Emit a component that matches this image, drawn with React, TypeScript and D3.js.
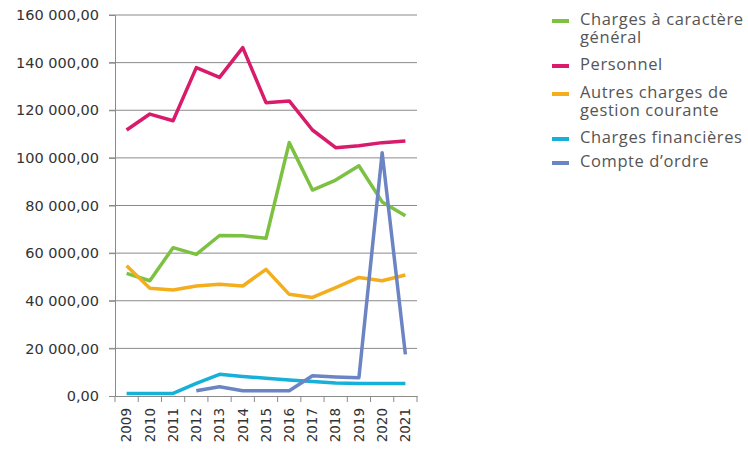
import React, { useEffect, useRef } from 'react';
import * as d3 from 'd3';

const years = ['2009', '2010', '2011', '2012', '2013', '2014', '2015', '2016', '2017', '2018', '2019', '2020', '2021'];

const chargesGeneral = [51500, 48400, 62300, 59500, 67400, 67300, 66200, 106400, 86500, 90700, 96700, 81500, 75700];
const personnel = [111700, 118400, 115600, 137900, 133800, 146300, 123200, 123900, 111700, 104300, 105100, 106400, 107100];
const autresCharges = [54700, 45200, 44500, 46200, 46900, 46200, 53200, 42700, 41400, 45500, 49800, 48400, 50800];
const chargesFinancieres = [1100, 1100, 1100, 5300, 9100, 8200, 7500, 6700, 6100, 5500, 5200, 5200, 5200];
const compteOrdre: (number | null)[] = [null, null, null, 2200, 3900, 2200, 2200, 2200, 8500, 8000, 7700, 102200, 17500];

const yTicks = [0, 20000, 40000, 60000, 80000, 100000, 120000, 140000, 160000];

const series = [
  { name: ['Charges à caractère', 'général'], values: chargesGeneral, color: '#7cc142' },
  { name: ['Personnel'], values: personnel, color: '#d81b6a' },
  { name: ['Autres charges de', 'gestion courante'], values: autresCharges, color: '#f4ad1c' },
  { name: ['Charges financières'], values: chargesFinancieres, color: '#17b0d9' },
  { name: ['Compte d\u2019ordre'], values: compteOrdre, color: '#6b84c3' },
];

const fmt = (v: number) => d3.format(',.2f')(v).replace(/,/g, ' ').replace('.', ',');

const App: React.FC = () => {
  const svgRef = useRef<SVGSVGElement>(null);

  useEffect(() => {
    if (!svgRef.current) return;
    const svg = d3.select(svgRef.current);
    svg.selectAll('*').remove();

    const left = 115, right = 417, top = 15, bottom = 396;

    const x = d3.scaleBand<string>().domain(years).range([left, right]);
    const y = d3.scaleLinear().domain([0, 160000]).range([bottom, top]);

    // grid lines
    svg.append('g')
      .selectAll('line')
      .data(yTicks.filter(t => t > 0))
      .enter()
      .append('line')
      .attr('x1', left - 6)
      .attr('x2', right)
      .attr('y1', d => y(d))
      .attr('y2', d => y(d))
      .attr('stroke', '#8a8a8a')
      .attr('stroke-width', 1);

    // y axis
    const yAxis = svg.append('g')
      .attr('transform', `translate(${left},0)`)
      .call(d3.axisLeft(y).tickValues(yTicks).tickSize(6).tickFormat(d => fmt(d as number)));
    yAxis.select('.domain').attr('stroke', '#8a8a8a');
    yAxis.selectAll('.tick line').attr('stroke', '#8a8a8a');
    yAxis.selectAll('text')
      .attr('x', -16)
      .style('font-family', 'DejaVu Sans, sans-serif')
      .style('font-size', '14.5px')
      .style('fill', '#333');

    // x axis
    const xAxis = svg.append('g')
      .attr('transform', `translate(0,${bottom})`)
      .call(d3.axisBottom(x).tickSize(0).tickFormat(d => d as string));
    xAxis.select('.domain').attr('stroke', '#8a8a8a');
    xAxis.selectAll('text')
      .attr('transform', 'rotate(-90)')
      .attr('x', -12)
      .attr('y', 0)
      .attr('dy', '0.35em')
      .style('text-anchor', 'end')
      .style('font-family', 'DejaVu Sans, sans-serif')
      .style('font-size', '13.5px')
      .style('fill', '#333');

    // boundary ticks between categories
    const bounds = years.map(yr => x(yr) as number).concat([right]);
    svg.append('g')
      .selectAll('line')
      .data(bounds)
      .enter()
      .append('line')
      .attr('x1', d => d)
      .attr('x2', d => d)
      .attr('y1', bottom)
      .attr('y2', bottom + 6)
      .attr('stroke', '#8a8a8a');

    // lines
    const cx = (i: number) => (x(years[i]) as number) + x.bandwidth() / 2;
    const line = d3.line<number | null>()
      .defined(d => d !== null)
      .x((_, i) => cx(i))
      .y(d => y(d as number));

    series.forEach(s => {
      svg.append('path')
        .datum(s.values as (number | null)[])
        .attr('fill', 'none')
        .attr('stroke', s.color)
        .attr('stroke-width', 3.5)
        .attr('stroke-linejoin', 'round')
        .attr('d', line);
    });

    // legend (baseline of first line of each entry)
    const legendRows = [25, 70, 98, 143, 167];
    const legend = svg.append('g');
    series.forEach((s, i) => {
      const ly = legendRows[i];
      legend.append('line')
        .attr('x1', 552).attr('x2', 569)
        .attr('y1', ly - 4).attr('y2', ly - 4)
        .attr('stroke', s.color)
        .attr('stroke-width', 4);
      const txt = legend.append('text')
        .attr('x', 580)
        .attr('y', ly)
        .style('font-family', '"Open Sans", sans-serif')
        .style('font-size', '16.5px')
        .style('letter-spacing', '0.6px')
        .style('fill', '#555');
      s.name.forEach((t, j) => {
        txt.append('tspan')
          .attr('x', 580)
          .attr('dy', j === 0 ? 0 : 18)
          .text(t);
      });
    });
  }, []);

  return (
    <svg
      ref={svgRef}
      width={748}
      height={450}
      style={{ position: 'absolute', left: 0, top: 0, background: '#fff' }}
    />
  );
};

export default App;
